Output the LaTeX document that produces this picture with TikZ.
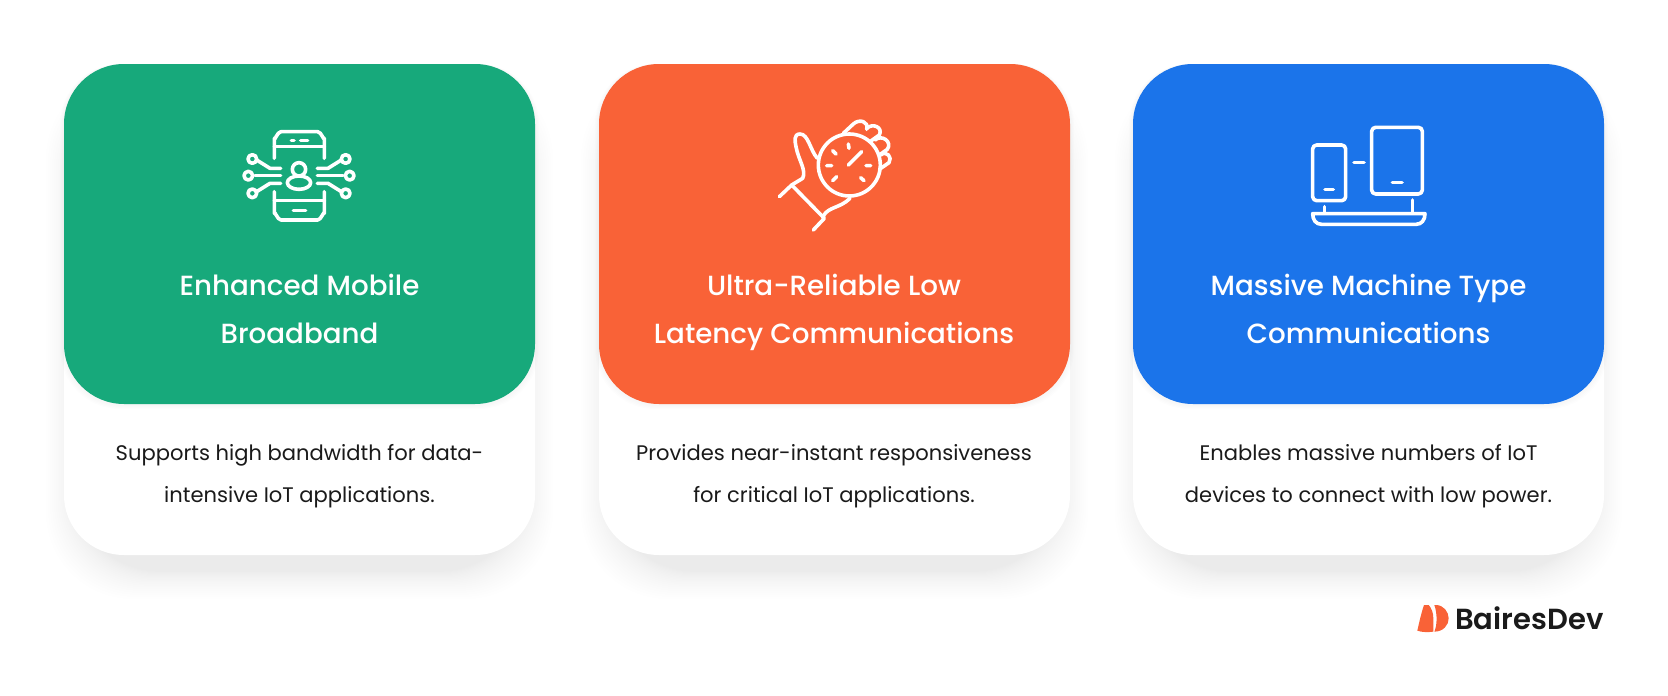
\documentclass[tikz,border=0pt]{standalone}
\usepackage{fontspec}
\setmainfont{Poppins}
\newfontfamily\headfont{Poppins Medium}
\newfontfamily\logofont{Poppins SemiBold}
\definecolor{cardgreen}{HTML}{17A97B}
\definecolor{cardorange}{HTML}{F96237}
\definecolor{cardblue}{HTML}{1B74EA}
\definecolor{inkblack}{HTML}{1A1A1A}
\definecolor{shadowgray}{HTML}{1F3333}
\begin{document}
\begin{tikzpicture}[x=0.75pt, y=-0.75pt,
          title/.style={align=center, text=white, font=\headfont\fontsize{20.8}{36}\selectfont,
              execute at begin node=\strut, execute at end node=\strut},
          blurb/.style={align=center, text=inkblack, font=\fontsize{15.8}{32}\selectfont,
              execute at begin node=\strut, execute at end node=\strut},
          icon/.style={draw=white, line width=2.7pt, line cap=round, line join=round}]
          \useasboundingbox (0,0) rectangle (1668,696);
          \fill[white] (0,0) rectangle (1668,696);
          \foreach \x/\col in {64/cardgreen, 599/cardorange, 1133/cardblue}{
              \foreach \i in {1,...,20}{
                  \pgfmathsetmacro{\grow}{0.04*\i*\i+0.6*\i-10}
                  \fill[shadowgray, opacity=0.0055, rounded corners=65pt] ({\x-\grow},{64+26-\grow}) rectangle ({\x+471+\grow},{555+26+\grow});
              }
              \fill[white, rounded corners=45pt] (\x,64) rectangle (\x+471,555);
              \foreach \i in {1,...,4}{
                  \fill[black, opacity=0.008, rounded corners=45pt] ({\x-\i},{64}) rectangle ({\x+471+\i},{404+\i+1});
              }
              \fill[\col, rounded corners=45pt] (\x,64) rectangle (\x+471,404);
          }
          \node[title] (embb title) at (299.5,316.5) {Enhanced Mobile\\Broadband};
          \node[title] (urllc title) at (834,316.5) {Ultra-Reliable Low\\Latency Communications};
          \node[title] (mmtc title) at (1368.5,316.5) {Massive Machine Type\\Communications};
          \node[blurb] (embb text) at (299.5,480) {Supports high bandwidth for data-\\intensive IoT applications.};
          \node[blurb] (urllc text) at (834,480) {Provides near-instant responsiveness\\for critical IoT applications.};
          \node[blurb] (mmtc text) at (1368.5,480) {Enables massive numbers of IoT\\devices to connect with low power.};
          \begin{scope}[shift={(220,110)}, x=0.25pt, y=-0.25pt]
              \draw[icon] (163,145) -- (163,85) to[out=-90, in=180] (183,65) -- (293,65) to[out=0, in=-90] (313,85) -- (313,145);
              \draw[icon] (163,110) -- (313,110);
              \draw[icon] (163,245) -- (163,310) to[out=90, in=180] (183,330) -- (293,330) to[out=0, in=90] (313,310) -- (313,245);
              \draw[icon] (163,272) -- (313,272);
              \draw[icon] (214,92) -- (222,92) (242,92) -- (263,92) (220,302) -- (257,302);
              \draw[icon] (237,178) circle (20);
              \draw[icon] (237,218) ellipse (35 and 20);
              \foreach \s in {-1, 1}{
                  \draw[icon] (237+\s*55,197) -- (237+\s*132,197);
                  \draw[icon] (237+\s*152,197) circle (13);
                  \draw[icon] (237+\s*140,147) circle (13);
                  \draw[icon] (237+\s*140,250) circle (13);
                  \draw[icon] (237+\s*55,175) -- (237+\s*87,175) -- (237+\s*127,150);
                  \draw[icon] (237+\s*55,220) -- (237+\s*87,220) -- (237+\s*127,245);
              }
          \end{scope}
          \begin{scope}[shift={(760,110)}, x=0.25pt, y=-0.25pt]
              \draw[icon] (268,165) circle (93);
              \draw[icon] (265,165) -- (305,125) (265,102) -- (267,115) (218,122) -- (228,132) (200,167) -- (215,167)
                  (218,212) -- (230,200) (302,203) -- (312,212) (318,167) -- (332,167);
              \draw[icon] (172,145) .. controls (150,120) and (145,72) .. (120,72) .. controls (100,72) and (105,95) .. (108,110) .. controls (115,150) and (140,180) .. (128,205) -- (95,225);
              \draw[icon] (58,260) -- (95,225) -- (193,325) -- (160,360);
              \draw[icon] (190,318) .. controls (205,290) and (240,295) .. (270,265);
              \draw[icon] (250,70) -- (280,42) .. controls (298,25) and (328,35) .. (320,58);
              \draw[icon] (320,55) .. controls (338,38) and (370,52) .. (358,75) -- (330,95);
              \draw[icon] (345,90) .. controls (365,72) and (398,95) .. (382,118) -- (358,135);
              \draw[icon] (362,135) .. controls (380,120) and (398,142) .. (387,158) -- (358,178);
          \end{scope}
          \begin{scope}[shift={(1290,110)}, x=0.25pt, y=-0.25pt]
              \draw[icon, rounded corners=3pt] (68,105) rectangle (167,272);
              \draw[icon, rounded corners=3pt] (245,52) rectangle (397,252);
              \draw[icon] (105,239) -- (130,239) (192,157) -- (222,157) (307,218) -- (336,218);
              \draw[icon] (103,290) -- (103,308) (368,270) -- (368,308);
              \draw[icon] (68,311) -- (405,311) .. controls (405,330) and (395,343) .. (378,343) -- (95,343) .. controls (78,343) and (68,330) .. (68,311) -- cycle;
          \end{scope}
          \begin{scope}[shift={(1400,590)}, x=0.25pt, y=-0.25pt]
              \fill[cardorange] (52,122) .. controls (58,95) and (65,65) .. (72,45) -- (86,45) .. controls (95,55) and (100,70) .. (100,85) -- (100,125) .. controls (85,127) and (65,127) .. (52,122) -- cycle;
              \fill[cardorange] (103,45) -- (108,45) .. controls (130,45) and (146,65) .. (146,85) .. controls (146,105) and (130,125) .. (103,125) .. controls (112,105) and (112,70) .. (103,45) -- cycle;
          \end{scope}
          \node[anchor=west, inner sep=0pt, text=inkblack, font=\logofont\fontsize{21.8}{24}\selectfont] (logo text) at (1455,618) {BairesDev};
      \end{tikzpicture}
\end{document}
